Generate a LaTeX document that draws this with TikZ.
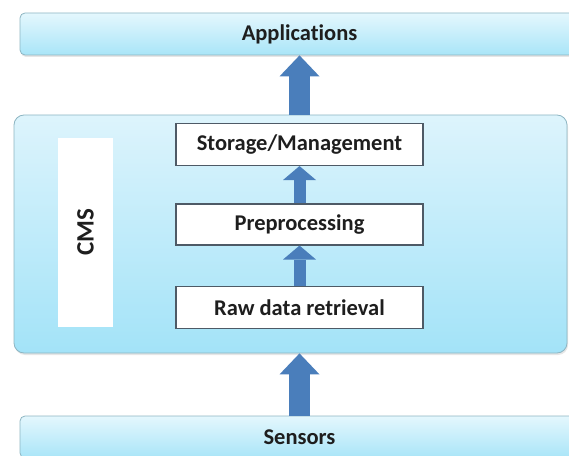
\documentclass[tikz,border=0pt]{standalone}
\usepackage{fontspec}
\setmainfont{Carlito}[Ligatures=NoCommon]
\usetikzlibrary{arrows.meta,shadows}

\definecolor{bartop}{HTML}{E4F7FD}
\definecolor{barbot}{HTML}{A9E5F8}
\definecolor{cmstop}{HTML}{DDF4FC}
\definecolor{cmsbot}{HTML}{A3E3F8}
\definecolor{baredge}{HTML}{8DB5C2}
\definecolor{boxedge}{HTML}{4E5A66}
\definecolor{arrowblue}{HTML}{4A7EBB}
\definecolor{txt}{HTML}{1E1E1E}

\begin{document}
\begin{tikzpicture}[x=1pt,y=1pt,
    layerfont/.style={font=\bfseries\fontsize{22.5}{26}\selectfont,text=txt},
    bar/.style={rectangle,rounded corners=5pt,draw=baredge,line width=0.8pt,
        top color=bartop,bottom color=barbot,minimum width=559pt,minimum height=42pt,
        drop shadow={opacity=0.2,shadow xshift=1pt,shadow yshift=-2pt},layerfont},
    procbox/.style={rectangle,draw=boxedge,line width=1.1pt,fill=white,
        minimum width=247pt,minimum height=42pt,layerfont},
    bigarrow/.style={draw=arrowblue,line width=21pt,
        -{Triangle[width=40pt,length=21pt,line width=0pt]}},
    smallarrow/.style={draw=arrowblue,line width=12pt,
        -{Triangle[width=33pt,length=14pt,line width=0pt]}}]
    \clip (0,0) rectangle (569,455);

    \node at (299.5,421) [bar] (apps) {Applications};
    \node at (299.5,18) [bar] (sensors) {Sensors};

    % CMS container
    \node at (290.5,221) [rectangle,rounded corners=10pt,draw=baredge,line width=0.8pt,
        top color=cmstop,bottom color=cmsbot,minimum width=553pt,minimum height=238pt,
        drop shadow={opacity=0.2,shadow xshift=1pt,shadow yshift=-2pt}] (cms) {};
    \node at (85.5,222.5) [rectangle,fill=white,rotate=90,minimum width=189pt,
        minimum height=55pt,font=\bfseries\fontsize{25}{28}\selectfont,text=txt] (cmslabel) {CMS};

    \node at (299.5,310.5) [procbox] (storage) {Storage/Management};
    \node at (299.5,230.5) [procbox,minimum height=41pt] (prep) {Preprocessing};
    \node at (299.5,147.5) [procbox] (raw) {Raw data retrieval};

    \draw[bigarrow] (storage |- cms.north) -- (storage |- apps.south);
    \draw[smallarrow] (prep.north) -- (storage.south);
    \draw[smallarrow] (raw.north) -- (prep.south);
    \draw[bigarrow] (raw |- sensors.north) -- (raw |- cms.south);
\end{tikzpicture}
\end{document}
